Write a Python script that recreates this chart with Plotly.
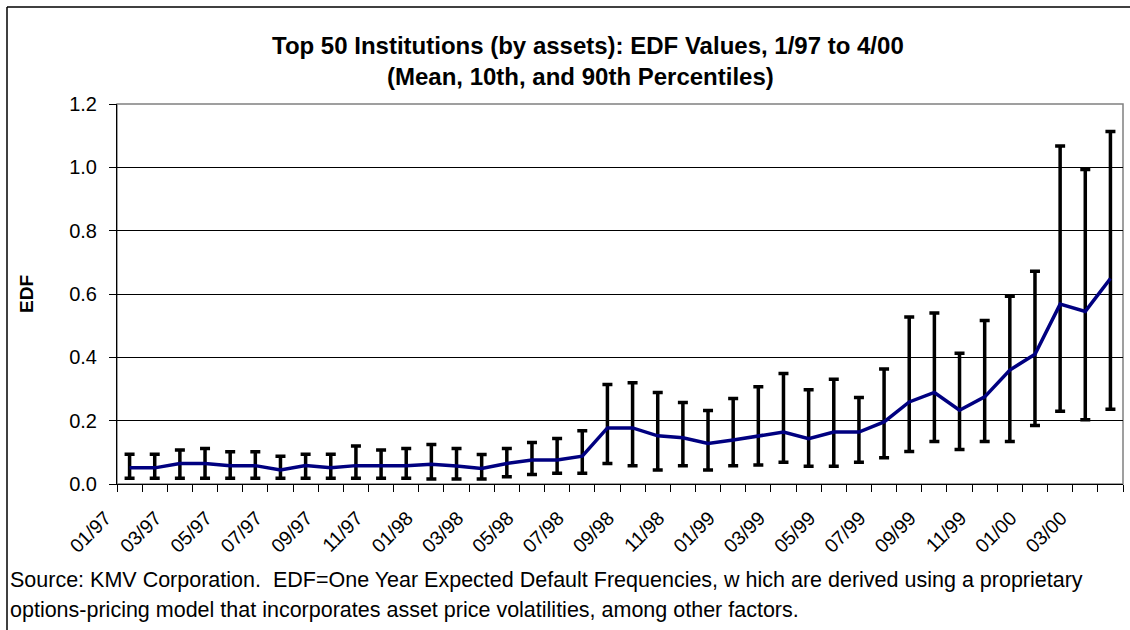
import plotly.graph_objects as go

months = ["01/97","02/97","03/97","04/97","05/97","06/97","07/97","08/97","09/97","10/97","11/97","12/97",
          "01/98","02/98","03/98","04/98","05/98","06/98","07/98","08/98","09/98","10/98","11/98","12/98",
          "01/99","02/99","03/99","04/99","05/99","06/99","07/99","08/99","09/99","10/99","11/99","12/99",
          "01/00","02/00","03/00","04/00"]

edf_mean = [0.051,0.051,0.065,0.065,0.058,0.058,0.044,0.058,0.051,0.058,0.058,0.058,
            0.062,0.057,0.049,0.065,0.076,0.076,0.088,0.177,0.177,0.152,0.146,0.128,
            0.139,0.152,0.164,0.143,0.164,0.164,0.196,0.259,0.289,0.233,0.275,0.360,
            0.410,0.568,0.545,0.649]

edf_p90 = [0.094,0.094,0.107,0.112,0.102,0.102,0.088,0.094,0.094,0.120,0.107,0.112,
           0.125,0.112,0.093,0.112,0.131,0.144,0.168,0.314,0.320,0.289,0.257,0.232,
           0.270,0.307,0.349,0.298,0.331,0.273,0.363,0.527,0.540,0.413,0.516,0.593,
           0.672,1.067,0.993,1.113]

edf_p10 = [0.018,0.018,0.018,0.018,0.018,0.018,0.018,0.018,0.018,0.018,0.018,0.018,
           0.016,0.016,0.016,0.023,0.030,0.034,0.034,0.065,0.058,0.044,0.058,0.044,
           0.058,0.060,0.069,0.056,0.056,0.069,0.083,0.103,0.134,0.109,0.134,0.134,
           0.185,0.230,0.203,0.236]

y_ticks = [0.0, 0.2, 0.4, 0.6, 0.8, 1.0, 1.2]

title_lines = ["Top 50 Institutions (by assets): EDF Values, 1/97 to 4/00",
               "(Mean, 10th, and 90th Percentiles)"]
y_title = "EDF"
source_lines = ["Source: KMV Corporation.  EDF=One Year Expected Default Frequencies, w hich are derived using a proprietary",
                "options-pricing model that incorporates asset price volatilities, among other factors."]

W, H = 1130, 630
L, R, T, B = 117, 7, 104, 146
PW, PH = W - L - R, H - T - B

def px(xp):
    return (xp - L) / PW

def py(yp):
    return (H - B - yp) / PH

FONT = "Arial, Liberation Sans, sans-serif"

idx = list(range(len(months)))
err_plus = [p - m for p, m in zip(edf_p90, edf_mean)]
err_minus = [m - p for p, m in zip(edf_p10, edf_mean)]

fig = go.Figure()
fig.add_trace(go.Scatter(
    x=idx, y=edf_mean, mode="lines",
    line=dict(color="#000080", width=3.5),
    error_y=dict(type="data", symmetric=False, array=err_plus, arrayminus=err_minus,
                 color="black", thickness=3.5, width=5),
    showlegend=False, hoverinfo="skip",
))

annotations = [
    dict(text="<b>" + title_lines[0] + "</b>", x=px(588), y=py(46), xref="paper", yref="paper",
         showarrow=False, xanchor="center", yanchor="middle",
         font=dict(family=FONT, size=24, color="black")),
    dict(text="<b>" + title_lines[1] + "</b>", x=px(580), y=py(76), xref="paper", yref="paper",
         showarrow=False, xanchor="center", yanchor="middle",
         font=dict(family=FONT, size=24, color="black")),
    dict(text="<b>" + y_title + "</b>", x=px(26), y=py(294), xref="paper", yref="paper",
         showarrow=False, xanchor="center", yanchor="middle", textangle=-90,
         font=dict(family=FONT, size=19, color="black")),
    dict(text=source_lines[0], x=px(8), y=py(580), xref="paper", yref="paper",
         showarrow=False, xanchor="left", yanchor="middle",
         font=dict(family=FONT, size=21.5, color="black")),
    dict(text=source_lines[1], x=px(8), y=py(610), xref="paper", yref="paper",
         showarrow=False, xanchor="left", yanchor="middle",
         font=dict(family=FONT, size=21.5, color="black")),
]

shapes = [
    dict(type="rect", xref="paper", yref="paper", x0=0, y0=0, x1=1, y1=1,
         line=dict(color="#808080", width=1.5), layer="below"),
    dict(type="line", xref="paper", yref="paper", x0=px(7), y0=py(7), x1=px(1135), y1=py(7),
         line=dict(color="black", width=1.5)),
    dict(type="line", xref="paper", yref="paper", x0=px(7), y0=py(7), x1=px(7), y1=py(640),
         line=dict(color="black", width=1.5)),
]

fig.update_layout(
    width=W, height=H,
    margin=dict(l=L, r=R, t=T, b=B, pad=0),
    paper_bgcolor="white", plot_bgcolor="white",
    font=dict(family=FONT, size=20, color="black"),
    annotations=annotations, shapes=shapes,
    xaxis=dict(
        range=[-0.5, len(months) - 0.5],
        tickmode="array", tickvals=idx[::2], ticktext=months[::2],
        tickangle=-45, ticks="outside", ticklen=0,
        ticklabelshift=-24, ticklabelstandoff=14,
        showgrid=False, zeroline=False, showline=True, linecolor="black", linewidth=1,
        tickfont=dict(family=FONT, size=19.5, color="black"),
        minor=dict(tick0=-0.5, dtick=1, ticks="outside", ticklen=7, tickcolor="black", tickwidth=1, showgrid=False),
    ),
    yaxis=dict(
        range=[0, 1.2], tickmode="array", tickvals=y_ticks,
        ticktext=[f"{v:.1f}" for v in y_ticks],
        ticks="outside", ticklen=7, tickcolor="black", ticklabelstandoff=8,
        showgrid=True, gridcolor="black", gridwidth=1,
        zeroline=False, showline=True, linecolor="black", linewidth=1,
        tickfont=dict(family=FONT, size=20, color="black"),
    ),
)

fig.write_html("out.html", config={"displayModeBar": False},
               post_script="document.body.style.margin='0px';document.body.style.overflow='hidden';")
